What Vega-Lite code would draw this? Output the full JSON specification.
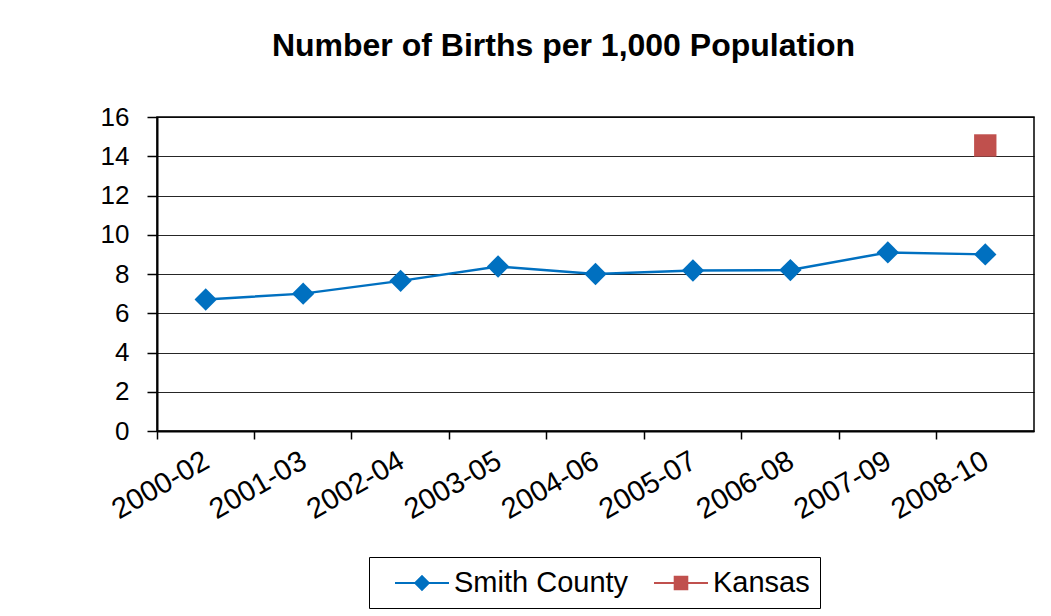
{
  "$schema": "https://vega.github.io/schema/vega-lite/v6.json",
  "width": 877,
  "height": 314,
  "autosize": {"type": "none"},
  "padding": {"left": 157, "top": 117, "right": 17, "bottom": 185},
  "background": "white",
  "title": {
    "text": "Number of Births per 1,000 Population",
    "font": "Liberation Sans",
    "fontSize": 32,
    "fontWeight": "bold",
    "color": "black",
    "anchor": "middle",
    "baseline": "alphabetic",
    "offset": 16,
    "dx": -32
  },
  "config": {
    "font": "Liberation Sans",
    "view": {"stroke": "black", "strokeWidth": 1.5}
  },
  "data": {
    "values": [
      {"period": "2000-02", "series": "Smith County", "value": 6.7},
      {"period": "2001-03", "series": "Smith County", "value": 7.0},
      {"period": "2002-04", "series": "Smith County", "value": 7.65},
      {"period": "2003-05", "series": "Smith County", "value": 8.38},
      {"period": "2004-06", "series": "Smith County", "value": 8.0},
      {"period": "2005-07", "series": "Smith County", "value": 8.18},
      {"period": "2006-08", "series": "Smith County", "value": 8.2},
      {"period": "2007-09", "series": "Smith County", "value": 9.1},
      {"period": "2008-10", "series": "Smith County", "value": 9.0},
      {"period": "2008-10", "series": "Kansas", "value": 14.55}
    ]
  },
  "encoding": {
    "x": {
      "field": "period",
      "type": "ordinal",
      "scale": {"type": "band", "paddingInner": 0, "paddingOuter": 0},
      "axis": {
        "title": null,
        "bandPosition": 0,
        "grid": false,
        "labelAngle": -30,
        "labelAlign": "right",
        "labelBaseline": "top",
        "labelFontSize": 29,
        "labelColor": "black",
        "labelPadding": 7,
        "labelOffset": -6,
        "tickColor": "black",
        "tickSize": 8,
        "tickWidth": 1.5,
        "domainColor": "black",
        "domainWidth": 2
      }
    },
    "y": {
      "field": "value",
      "type": "quantitative",
      "scale": {"domain": [0, 16]},
      "axis": {
        "title": null,
        "values": [0, 2, 4, 6, 8, 10, 12, 14, 16],
        "labelFontSize": 26,
        "labelColor": "black",
        "labelPadding": 18,
        "tickColor": "black",
        "tickSize": 10,
        "tickWidth": 1.5,
        "domainColor": "black",
        "domainWidth": 2,
        "gridColor": "black",
        "gridWidth": 1.2,
        "gridOpacity": 0.85
      }
    },
    "color": {
      "field": "series",
      "type": "nominal",
      "scale": {"domain": ["Smith County", "Kansas"], "range": ["#0070C0", "#C0504D"]},
      "legend": {
        "title": null,
        "orient": "none",
        "legendX": 212,
        "legendY": 440,
        "direction": "horizontal",
        "strokeColor": "black",
        "padding": 10,
        "labelFontSize": 29,
        "labelLimit": 400,
        "labelColor": "black",
        "labelOffset": 16,
        "symbolOffset": 27,
        "columnPadding": 9,
        "symbolSize": 900,
        "symbolStrokeWidth": 2,
        "symbolOpacity": 1,
        "encode": {
          "symbols": {
            "update": {
              "shape": {"signal": "datum.value === 'Smith County' ? 'M-1.8,0L1.8,0M0,-0.45L0.45,0L0,0.45L-0.45,0Z' : 'M-1.8,0L1.8,0M-0.42,-0.42L0.42,-0.42L0.42,0.42L-0.42,0.42Z'"},
              "stroke": {"signal": "scale('color', datum.value)"},
              "fill": {"signal": "scale('color', datum.value)"}
            }
          }
        }
      }
    }
  },
  "layer": [
    {
      "transform": [{"filter": "datum.series === 'Smith County'"}],
      "mark": {"type": "line", "strokeWidth": 2.5},
      "encoding": {}
    },
    {
      "transform": [{"filter": "datum.series === 'Smith County'"}],
      "mark": {"type": "point", "filled": true, "shape": "diamond", "size": 500, "opacity": 1},
      "encoding": {}
    },
    {
      "transform": [{"filter": "datum.series === 'Kansas'"}],
      "mark": {"type": "point", "filled": true, "shape": "square", "size": 500, "opacity": 1},
      "encoding": {}
    }
  ]
}
